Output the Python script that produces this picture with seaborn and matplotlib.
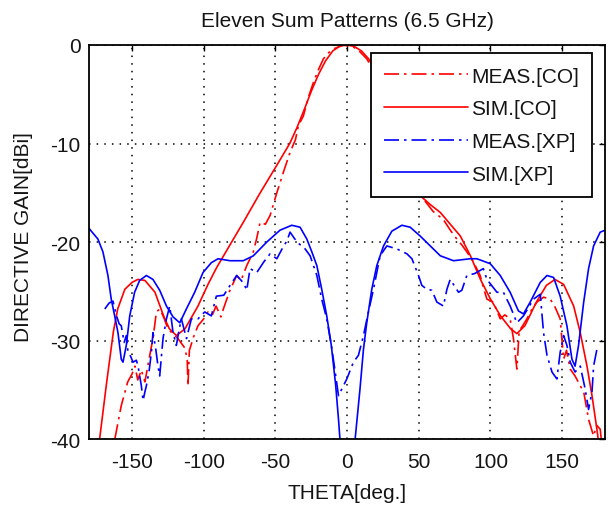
import numpy as np
import pandas as pd
import matplotlib
matplotlib.use("Agg")
import matplotlib.pyplot as plt
import seaborn as sns

# ---------------- data ----------------
sim_co_theta = [-172.6, -168, -163, -160, -155, -150, -146, -141, -134, -128, -124, -119,
                -113, -104, -97, -91, -80.5, -72, -61, -49, -40, -35, -30, -25, -20, -15,
                -10, -5, 0, 5, 10, 15, 20, 25, 30, 35, 40, 45, 51, 58, 65, 72, 79, 86, 93,
                100, 107, 114, 118.4, 124, 132, 139, 145, 151, 158, 162.6, 167.3, 170.8,
                174.2, 176]
sim_co_db = [-40, -34.6, -29.1, -26.8, -24.8, -24.1, -23.8, -23.9, -25.1, -27.5, -28.8, -29.5,
             -28.8, -26.5, -24.3, -22.6, -20.0, -17.9, -15.1, -12.2, -10.0, -8.4, -6.6, -4.7,
             -3.0, -1.6, -0.6, -0.1, 0.0, -0.15, -0.6, -1.4, -2.6, -4.0, -5.6, -7.3, -9.3,
             -11.8, -15.3, -16.2, -17.0, -18.2, -19.4, -21.4, -23.8, -25.8, -27.5, -28.8,
             -29.3, -28.5, -26.1, -24.4, -23.8, -24.3, -26.5, -29.2, -32.6, -35.6, -39.0, -41]

meas_co_theta = [-162, -157.5, -153, -150, -148, -146, -143.5, -141, -139, -137, -135.4, -133,
                 -130.7, -128, -125, -121, -118, -115, -113, -111.5, -111, -110, -107, -104,
                 -100, -97, -94, -91.4, -88, -86.3, -82, -77, -74, -70, -65.4, -63, -60.7,
                 -57, -53.7, -49, -44.4, -39.8, -36, -34, -30.5, -27, -23.5, -20, -16.5, -13,
                 -9.5, -6, -2.6, 1, 4.4, 9, 13.7, 20, 27, 35, 43, 50, 53, 60, 67, 72, 76.5,
                 80, 83.5, 88, 92.8, 95, 97.5, 102, 106.8, 110, 113.7, 116, 118.4, 120,
                 122, 125.4, 129, 132.4, 137, 141.7, 145, 148.6, 151, 153, 155.6, 159, 162.6,
                 165, 168.4, 171.9, 174, 176.5, 178]
meas_co_db = [-40, -36.6, -34.2, -33.4, -32.6, -34.0, -33.0, -34.2, -32.6, -31.0, -29.8, -27.1,
              -26.8, -27.6, -28.8, -29.4, -29.8, -30.4, -30.8, -32.0, -34.6, -31.0, -29.6,
              -28.5, -27.8, -27.1, -27.4, -26.5, -27.6, -26.8, -25.0, -23.4, -23.9, -22.4,
              -21.0, -19.6, -18.0, -18.2, -17.3, -15.0, -12.9, -10.9, -9.6, -8.2, -7.2, -5.3,
              -3.8, -2.5, -1.4, -0.8, -0.4, -0.2, 0.0, -0.1, -0.2, -0.7, -1.4, -3.0, -5.8,
              -9.0, -12.8, -15.0, -15.6, -16.9, -17.7, -18.8, -19.7, -20.3, -21.0, -22.0,
              -23.4, -24.6, -25.8, -26.1, -27.8, -27.4, -27.8, -29.8, -32.9, -29.0, -28.6,
              -27.8, -26.8, -26.1, -25.6, -25.8, -26.6, -27.8, -31.9, -31.0, -32.9, -33.6,
              -34.6, -35.2, -38.0, -39.7, -38.6, -39.0, -41]

sim_xp_theta = [-180, -178.4, -173.8, -170.3, -166.8, -164.5, -162.1, -159.8, -157.5, -156.3,
                -154, -151.6, -148.2, -144.7, -140, -135.4, -130.7, -126, -121.4, -116.7,
                -112.1, -106.3, -100.5, -94.7, -90, -81.6, -72.4, -65.4, -56, -46.8, -38.6,
                -32.8, -28.1, -24.6, -21.1, -17.7, -14.2, -11, -8, -6, -4, 4, 5.6, 9, 11.4,
                13.7, 17.2, 20.7, 25.4, 31.2, 38.2, 44, 51, 58, 65, 74.2, 85.8, 90.5, 99.8,
                106.8, 113.7, 119.5, 123, 127.7, 134.7, 139.4, 144, 148.6, 153.3, 156.8, 159,
                161.4, 165, 168.4, 171.9, 176.5, 180]
sim_xp_db = [-18.6, -18.9, -19.7, -21.0, -23.4, -25.8, -27.5, -29.2, -31.9, -32.2, -30.5, -27.5,
             -25.1, -23.9, -23.4, -23.8, -24.9, -26.5, -27.6, -28.2, -26.8, -25.1, -23.1,
             -22.1, -21.7, -21.9, -21.9, -21.4, -20.0, -18.8, -18.3, -18.5, -19.7, -21.0,
             -22.4, -24.8, -27.5, -30.5, -34.5, -38.0, -42, -42, -40.0, -34.9, -30.9, -28.2,
             -24.8, -22.4, -20.4, -18.9, -18.3, -18.5, -19.4, -20.4, -21.4, -21.9, -21.7,
             -21.7, -22.2, -23.4, -25.1, -27.0, -27.3, -26.1, -24.1, -23.4, -23.6, -25.5,
             -28.5, -31.9, -32.6, -30.5, -26.1, -22.7, -20.4, -19.0, -18.8]

meas_xp_theta = [-169, -166, -163.3, -161, -159, -157.5, -155.5, -154, -152.8, -151, -149.3,
                 -147, -145.8, -143.5, -142.3, -141, -140, -138, -136.5, -135.4, -133.5,
                 -131.9, -130.7, -128.4, -126, -123.7, -121.4, -119.1, -117, -115.6, -112,
                 -108.6, -104, -99.3, -94.7, -91.2, -86, -81.6, -77, -72, -70, -67.7, -63,
                 -58, -53.7, -49, -45, -42, -39.8, -35, -29.3, -25.8, -21.1, -17.7, -14.2,
                 -11, -8.5, -6, -2.6, -0.2, 4.4, 7.9, 11.4, 15, 18.4, 23, 27.7, 34.7, 41.7,
                 45.2, 49.8, 52.1, 55.6, 59.1, 62.6, 67.2, 69.6, 71.9, 77.7, 80, 83.5, 89,
                 95, 97.5, 104.5, 109, 113.7, 118.4, 123, 130, 134.7, 137, 139.4, 142.9,
                 146.3, 148.6, 151, 153.3, 155.6, 159, 162.6, 166, 168.4, 170.8, 171.9, 174.2]
meas_xp_db = [-26.8, -26.2, -26.0, -27.4, -28.3, -28.5, -30.2, -29.5, -31.2, -31.6, -32.2,
              -32.0, -32.6, -34.6, -36.1, -35.2, -34.6, -33.0, -31.2, -29.2, -30.8, -32.6,
              -33.6, -29.8, -27.8, -26.5, -29.2, -30.5, -28.8, -27.8, -29.8, -27.8, -27.8,
              -27.1, -27.5, -25.5, -25.4, -24.4, -23.4, -24.2, -24.9, -22.7, -23.1, -22.0,
              -21.2, -21.7, -20.6, -19.9, -19.0, -20.0, -20.7, -21.4, -23.4, -25.8, -27.8,
              -30.5, -33.0, -35.6, -34.6, -33.9, -32.2, -31.5, -29.5, -27.0, -24.8, -21.4,
              -20.4, -20.7, -21.2, -21.7, -23.4, -24.4, -24.8, -24.9, -26.1, -26.5, -24.8,
              -23.8, -25.1, -24.9, -23.4, -23.2, -22.7, -23.8, -25.1, -25.1, -26.5, -28.2,
              -27.5, -25.8, -25.3, -29.2, -31.5, -33.2, -33.9, -31.2, -29.5, -30.5, -32.2,
              -33.2, -32.6, -34.9, -37.0, -35.2, -32.6, -30.9]

labels = ["MEAS.[CO]", "SIM.[CO]", "MEAS.[XP]", "SIM.[XP]"]
x_ticks = [-150, -100, -50, 0, 50, 100, 150]
y_ticks = [-40, -30, -20, -10, 0]

# ---------------- style ----------------
sns.set_style("white")
plt.rcParams["font.family"] = ["Liberation Sans", "DejaVu Sans"]
plt.rcParams["axes.unicode_minus"] = False
FS = 15
TXT = "#151515"

fig = plt.figure(figsize=(6.08, 5.06), dpi=100)
ax = fig.add_axes([0.1464, 0.1304, 0.8490, 0.7787])

dashdot = (0, (9, 3, 1.5, 3))
series = [
    (meas_co_theta, meas_co_db, "#ff0000", dashdot, labels[0]),
    (sim_co_theta, sim_co_db, "#ff0000", "-", labels[1]),
    (meas_xp_theta, meas_xp_db, "#0000ff", dashdot, labels[2]),
    (sim_xp_theta, sim_xp_db, "#0000ff", "-", labels[3]),
]
for th, db, col, ls, lab in series:
    df = pd.DataFrame({"theta": th, "gain": db})
    sns.lineplot(data=df, x="theta", y="gain", sort=False, estimator=None,
                 color=col, linestyle=ls, linewidth=1.2, label=lab, ax=ax)

ax.set_xlim(-180, 180)
ax.set_ylim(-40, 0)
ax.set_xticks(x_ticks)
ax.set_yticks(y_ticks)
ax.set_xticklabels([str(v) for v in x_ticks], fontsize=FS)
ax.set_yticklabels([str(v) for v in y_ticks], fontsize=FS)
ax.tick_params(direction="in", length=4, width=1, top=True, right=True,
               colors="black", labelcolor=TXT)
ax.tick_params(axis="x", pad=9)
ax.tick_params(axis="y", pad=6)
ax.grid(True, color="black", linestyle=(0, (1, 4)), linewidth=1.1)
for s in ax.spines.values():
    s.set_color("black")
    s.set_linewidth(1.3)
    s.set_visible(True)

ax.set_xlabel("THETA[deg.]", fontsize=FS, color=TXT, labelpad=9)
ax.set_ylabel("DIRECTIVE GAIN[dBi]", fontsize=FS, color=TXT)
ax.yaxis.set_label_coords(-0.108, 0.516)
ax.set_title("Eleven Sum Patterns (6.5 GHz)", fontsize=FS, color=TXT, pad=14)

handles, labs = ax.get_legend_handles_labels()
leg = ax.legend(handles, labs, loc="upper right", bbox_to_anchor=(0.975, 0.9797),
                borderaxespad=0, fontsize=FS, frameon=True, fancybox=False,
                edgecolor="black", framealpha=1, handlelength=4.0, handletextpad=0.15,
                labelspacing=0.66, borderpad=0.65)
leg.get_frame().set_linewidth(1.3)
for t in leg.get_texts():
    t.set_color(TXT)

fig.savefig("out.png", dpi=100)
